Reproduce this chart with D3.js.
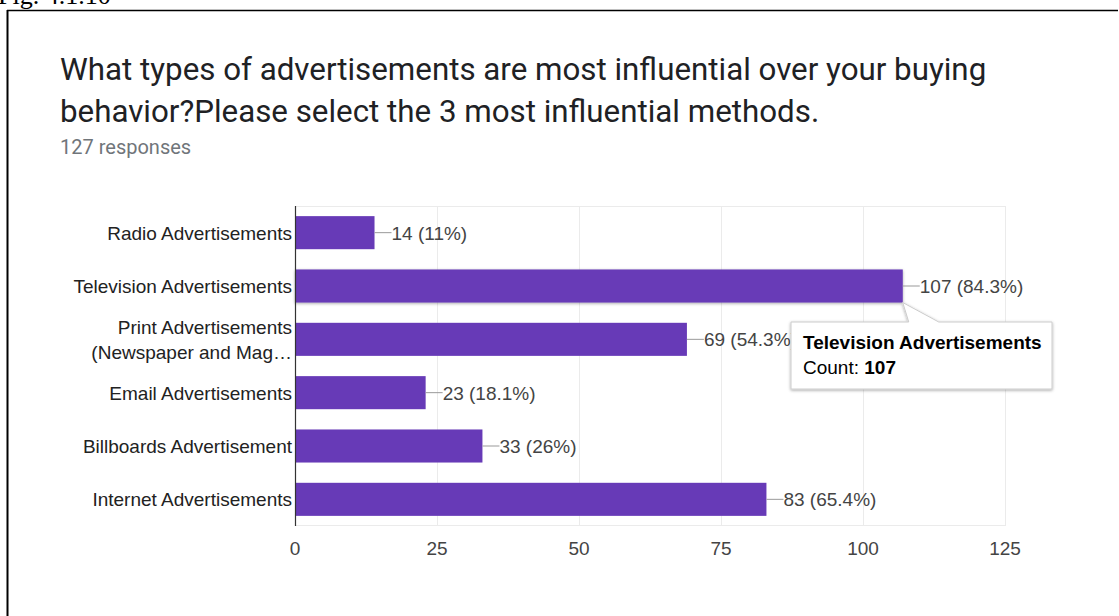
<!DOCTYPE html>
<html>
<head>
<meta charset="utf-8">
<script src="https://cdn.jsdelivr.net/npm/d3@7"></script>
<style>
  html, body { margin: 0; padding: 0; background: #fff; }
  svg { display: block; }
</style>
</head>
<body>
<svg id="chart" width="1119" height="616"></svg>
<script>
// Survey answers: ad types and how many respondents picked each
const categories = [
  ["Radio Advertisements"],
  ["Television Advertisements"],
  ["Print Advertisements", "(Newspaper and Mag\u2026"],
  ["Email Advertisements"],
  ["Billboards Advertisement"],
  ["Internet Advertisements"]
];
const counts = [14, 107, 69, 23, 33, 83];
const percents = ["11%", "84.3%", "54.3%", "18.1%", "26%", "65.4%"];
const xTicks = [0, 25, 50, 75, 100, 125];
const totalResponses = 127;

const svg = d3.select("#chart");
const W = 1119, H = 616;
const barColor = "#673ab7";
const labelFont = "Arial, 'Liberation Sans', sans-serif";
const labelSize = 19;

// Figure caption (partly above the frame) and frame lines
svg.append("text")
  .attr("x", -2).attr("y", 4)
  .attr("font-family", "'Liberation Serif', 'Times New Roman', serif")
  .attr("font-size", 26).attr("fill", "#000")
  .text("Fig. 4.1.10");
svg.append("line").attr("x1", 7).attr("x2", 1118).attr("y1", 10.5).attr("y2", 10.5)
  .attr("stroke", "#000").attr("stroke-width", 1.5);
svg.append("line").attr("x1", 7.5).attr("x2", 7.5).attr("y1", 10).attr("y2", H)
  .attr("stroke", "#000").attr("stroke-width", 2);

// Title block
const title = svg.append("text")
  .attr("font-family", "Roboto, sans-serif")
  .attr("font-size", 31.3).attr("fill", "#202124");
title.append("tspan").attr("x", 60).attr("y", 80)
  .text("What types of advertisements are most influential over your buying");
title.append("tspan").attr("x", 60).attr("y", 122)
  .text("behavior?Please select the 3 most influential methods.");
svg.append("text")
  .attr("x", 60).attr("y", 154)
  .attr("font-family", "Roboto, sans-serif")
  .attr("font-size", 20).attr("fill", "#70757a")
  .text(`${totalResponses} responses`);

// Plot area
const plot = { left: 295, right: 1005, top: 206, bottom: 526 };
const x = d3.scaleLinear().domain([0, 125]).range([plot.left, plot.right]);
const y = d3.scaleBand().domain(d3.range(counts.length))
  .range([plot.top, plot.bottom]).paddingInner(0.38).paddingOuter(0.19);

// Vertical gridlines and frame of the plot area
const grid = svg.append("g");
grid.selectAll("line.v").data(xTicks.slice(1)).join("line")
  .attr("x1", d => Math.round(x(d)) + 0.5).attr("x2", d => Math.round(x(d)) + 0.5)
  .attr("y1", plot.top).attr("y2", plot.bottom)
  .attr("stroke", "#ebebeb").attr("stroke-width", 1);
grid.append("line").attr("x1", plot.left).attr("x2", plot.right)
  .attr("y1", plot.top + 0.5).attr("y2", plot.top + 0.5).attr("stroke", "#ebebeb");
grid.append("line").attr("x1", plot.left).attr("x2", plot.right)
  .attr("y1", plot.bottom - 0.5).attr("y2", plot.bottom - 0.5).attr("stroke", "#ebebeb");

// Shadow filter for the hovered bar and the tooltip
const defs = svg.append("defs");
const f = defs.append("filter").attr("id", "shadow")
  .attr("x", "-10%").attr("y", "-30%").attr("width", "120%").attr("height", "160%");
f.append("feDropShadow").attr("dx", 0).attr("dy", 1).attr("stdDeviation", 1.5)
  .attr("flood-color", "#000").attr("flood-opacity", 0.35);

// Bars
const hovered = 1;
svg.append("g").selectAll("rect").data(counts).join("rect")
  .attr("x", x(0))
  .attr("y", (d, i) => y(i))
  .attr("width", d => x(d) - x(0))
  .attr("height", y.bandwidth())
  .attr("fill", barColor)
  .attr("filter", (d, i) => i === hovered ? "url(#shadow)" : null);

// Value annotations with leader lines
const ann = svg.append("g");
counts.forEach((d, i) => {
  const cy = y(i) + y.bandwidth() / 2;
  ann.append("line")
    .attr("x1", x(d)).attr("x2", x(d) + 17)
    .attr("y1", cy).attr("y2", cy)
    .attr("stroke", "#999").attr("stroke-width", 1);
  ann.append("text")
    .attr("x", x(d) + 17).attr("y", cy + 7)
    .attr("font-family", labelFont).attr("font-size", labelSize)
    .attr("fill", "#444")
    .text(`${d} (${percents[i]})`);
});

// Category axis line and labels
svg.append("line")
  .attr("x1", plot.left + 0.5).attr("x2", plot.left + 0.5)
  .attr("y1", plot.top).attr("y2", plot.bottom)
  .attr("stroke", "#333").attr("stroke-width", 1.2);
const catG = svg.append("g");
categories.forEach((lines, i) => {
  const cy = y(i) + y.bandwidth() / 2;
  const t = catG.append("text")
    .attr("text-anchor", "end")
    .attr("font-family", labelFont).attr("font-size", labelSize)
    .attr("fill", "#222");
  const lh = 25;
  lines.forEach((s, k) => {
    t.append("tspan")
      .attr("x", plot.left - 3)
      .attr("y", cy + 7 + (k - (lines.length - 1) / 2) * lh)
      .text(s);
  });
});

// Value axis tick labels
svg.append("g").selectAll("text").data(xTicks).join("text")
  .attr("x", d => x(d)).attr("y", 555)
  .attr("text-anchor", "middle")
  .attr("font-family", labelFont).attr("font-size", labelSize)
  .attr("fill", "#444")
  .text(d => d);

// Tooltip for the hovered bar
const tipX = 791, tipY = 322, tipW = 261, tipH = 67;
const barEndX = x(counts[hovered]);
const barBottom = y(hovered) + y.bandwidth();
const tip = svg.append("g");
tip.append("path")
  .attr("d", `M${tipX} ${tipY + tipH} V${tipY} H${barEndX + 6} L${barEndX} ${barBottom} L${barEndX + 36} ${tipY} H${tipX + tipW} V${tipY + tipH} Z`)
  .attr("fill", "#fff").attr("stroke", "#ccc").attr("stroke-width", 1)
  .attr("filter", "url(#shadow)");
const tt = tip.append("text")
  .attr("font-family", labelFont).attr("font-size", labelSize).attr("fill", "#000");
tt.append("tspan").attr("x", tipX + 12).attr("y", tipY + 27)
  .attr("font-weight", "bold").text(categories[hovered][0]);
const l2 = tip.append("text")
  .attr("x", tipX + 12).attr("y", tipY + 52)
  .attr("font-family", labelFont).attr("font-size", labelSize).attr("fill", "#000");
l2.append("tspan").text("Count: ");
l2.append("tspan").attr("font-weight", "bold").text(counts[hovered]);
</script>
</body>
</html>
